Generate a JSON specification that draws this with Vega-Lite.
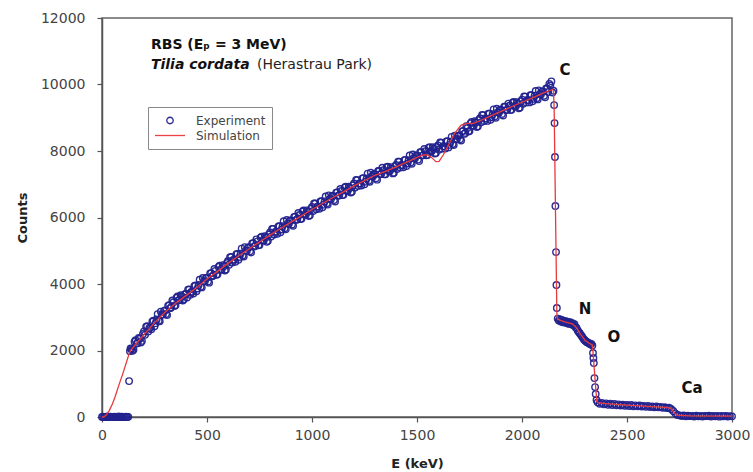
{
  "$schema": "https://vega.github.io/schema/vega-lite/v6.json",
  "width": 630,
  "height": 399,
  "autosize": {"type": "none"},
  "padding": {"left": 102, "top": 18, "right": 21, "bottom": 55},
  "background": "white",
  "config": {
    "font": "DejaVu Sans",
    "view": {"stroke": "#666", "strokeWidth": 1.5},
    "axis": {
      "grid": false, "domainColor": "#555", "domainWidth": 1.5, "tickColor": "#555", "tickWidth": 1.2, "tickSize": 5,
      "labelFont": "DejaVu Sans", "labelFontSize": 14, "labelColor": "#444", "labelFlush": false,
      "titleFont": "DejaVu Sans", "titleFontWeight": "bold", "titleFontSize": 13, "titleColor": "#222"
    },
    "axisX": {"labelPadding": 6, "titlePadding": 15},
    "axisY": {"labelPadding": 12, "titlePadding": 11},
    "legend": {
      "orient": "none", "legendX": 46, "legendY": 89, "clipHeight": 15, "rowPadding": 0, "padding": 6,
      "strokeColor": "#888", "fillColor": "white", "symbolStrokeWidth": 1.3, "symbolOffset": 0,
      "labelFont": "DejaVu Sans", "labelFontSize": 12, "labelColor": "#444", "labelOffset": 10
    }
  },
  "datasets": {
    "exp": [
      {"E":0,"c":0},{"E":5,"c":10},{"E":10,"c":0},{"E":15,"c":5},{"E":20,"c":0},{"E":25,"c":15},{"E":30,"c":0},{"E":35,"c":5},{"E":40,"c":10},{"E":45,"c":0},{"E":50,"c":5},{"E":55,"c":0},{"E":60,"c":10},{"E":65,"c":0},{"E":70,"c":5},{"E":75,"c":0},{"E":80,"c":15},{"E":85,"c":0},{"E":90,"c":5},{"E":95,"c":10},{"E":100,"c":0},{"E":105,"c":5},{"E":110,"c":0},{"E":115,"c":10},{"E":120,"c":0},{"E":125,"c":5},
      {"E":129,"c":1080},{"E":133,"c":1980},{"E":136,"c":2060},
      {"E":140,"c":2040},{"E":150,"c":2023},{"E":160,"c":2310},{"E":170,"c":2226},{"E":180,"c":2353},{"E":190,"c":2289},{"E":200,"c":2576},{"E":210,"c":2715},{"E":220,"c":2574},{"E":230,"c":2682},{"E":240,"c":2871},{"E":250,"c":2730},{"E":260,"c":2933},{"E":270,"c":2896},{"E":280,"c":3170},{"E":290,"c":3083},{"E":300,"c":3206},{"E":310,"c":3065},{"E":320,"c":3364},{"E":330,"c":3303},{"E":340,"c":3452},{"E":350,"c":3361},{"E":360,"c":3626},{"E":370,"c":3522},{"E":380,"c":3627},{"E":390,"c":3543},
      {"E":400,"c":3708},{"E":410,"c":3831},{"E":420,"c":3673},{"E":430,"c":3766},{"E":440,"c":3938},{"E":450,"c":3781},{"E":460,"c":3971},{"E":470,"c":3921},{"E":480,"c":4182},{"E":490,"c":4082},{"E":500,"c":4192},{"E":510,"c":4040},{"E":520,"c":4328},{"E":530,"c":4257},{"E":540,"c":4395},{"E":550,"c":4293},{"E":560,"c":4549},{"E":570,"c":4435},{"E":580,"c":4532},{"E":590,"c":4438},
      {"E":600,"c":4694},{"E":610,"c":4809},{"E":620,"c":4644},{"E":630,"c":4728},{"E":640,"c":4893},{"E":650,"c":4728},{"E":660,"c":4911},{"E":670,"c":4855},{"E":680,"c":5108},{"E":690,"c":5002},{"E":700,"c":5105},{"E":710,"c":4947},{"E":720,"c":5229},{"E":730,"c":5151},{"E":740,"c":5283},{"E":750,"c":5175},{"E":760,"c":5426},{"E":770,"c":5307},{"E":780,"c":5397},{"E":790,"c":5298},
      {"E":800,"c":5549},{"E":810,"c":5659},{"E":820,"c":5489},{"E":830,"c":5568},{"E":840,"c":5728},{"E":850,"c":5558},{"E":860,"c":5737},{"E":870,"c":5676},{"E":880,"c":5924},{"E":890,"c":5813},{"E":900,"c":5912},{"E":910,"c":5750},{"E":920,"c":6028},{"E":930,"c":5946},{"E":940,"c":6074},{"E":950,"c":5962},{"E":960,"c":6209},{"E":970,"c":6086},{"E":980,"c":6173},{"E":990,"c":6070},
      {"E":1000,"c":6317},{"E":1010,"c":6423},{"E":1020,"c":6250},{"E":1030,"c":6326},{"E":1040,"c":6483},{"E":1050,"c":6309},{"E":1060,"c":6484},{"E":1070,"c":6419},{"E":1080,"c":6666},{"E":1090,"c":6551},{"E":1100,"c":6646},{"E":1110,"c":6481},{"E":1120,"c":6756},{"E":1130,"c":6671},{"E":1140,"c":6796},{"E":1150,"c":6681},{"E":1160,"c":6925},{"E":1170,"c":6799},{"E":1180,"c":6884},{"E":1190,"c":6778},
      {"E":1200,"c":7022},{"E":1210,"c":7126},{"E":1220,"c":6950},{"E":1230,"c":7023},{"E":1240,"c":7177},{"E":1250,"c":7001},{"E":1260,"c":7174},{"E":1270,"c":7107},{"E":1280,"c":7350},{"E":1290,"c":7233},{"E":1300,"c":7306},{"E":1310,"c":7139},{"E":1320,"c":7401},{"E":1330,"c":7314},{"E":1340,"c":7426},{"E":1350,"c":7299},{"E":1360,"c":7531},{"E":1370,"c":7393},{"E":1380,"c":7466},{"E":1390,"c":7348},
      {"E":1400,"c":7580},{"E":1410,"c":7682},{"E":1420,"c":7504},{"E":1430,"c":7575},{"E":1440,"c":7727},{"E":1450,"c":7549},{"E":1460,"c":7720},{"E":1470,"c":7651},{"E":1480,"c":7893},{"E":1490,"c":7774},{"E":1500,"c":7865},{"E":1510,"c":7696},{"E":1520,"c":7966},{"E":1530,"c":7877},{"E":1540,"c":7997},{"E":1550,"c":7878},{"E":1560,"c":8118},{"E":1570,"c":7989},{"E":1580,"c":8069},{"E":1590,"c":7940},
      {"E":1600,"c":8170},{"E":1610,"c":8260},{"E":1620,"c":8070},{"E":1630,"c":8139},{"E":1640,"c":8289},{"E":1650,"c":8109},{"E":1660,"c":8279},{"E":1670,"c":8209},{"E":1680,"c":8458},{"E":1690,"c":8358},{"E":1700,"c":8468},{"E":1710,"c":8317},{"E":1720,"c":8606},{"E":1730,"c":8544},{"E":1740,"c":8693},{"E":1750,"c":8602},{"E":1760,"c":8871},{"E":1770,"c":8760},{"E":1780,"c":8859},{"E":1790,"c":8747},
      {"E":1800,"c":8986},{"E":1810,"c":9085},{"E":1820,"c":8903},{"E":1830,"c":8972},{"E":1840,"c":9120},{"E":1850,"c":8939},{"E":1860,"c":9107},{"E":1870,"c":9035},{"E":1880,"c":9273},{"E":1890,"c":9151},{"E":1900,"c":9239},{"E":1910,"c":9067},{"E":1920,"c":9334},{"E":1930,"c":9242},{"E":1940,"c":9359},{"E":1950,"c":9237},{"E":1960,"c":9475},{"E":1970,"c":9342},{"E":1980,"c":9420},{"E":1990,"c":9308},
      {"E":2000,"c":9546},{"E":2010,"c":9643},{"E":2020,"c":9461},{"E":2030,"c":9528},{"E":2040,"c":9676},{"E":2050,"c":9493},{"E":2060,"c":9660},{"E":2070,"c":9587},{"E":2080,"c":9824},{"E":2090,"c":9701},{"E":2100,"c":9788},{"E":2110,"c":9614},{"E":2120,"c":9881},{"E":2130,"c":10018},{"E":2140,"c":10095},{"E":2145,"c":9760},{"E":2150,"c":9811},
      {"E":145,"c":1992},{"E":155,"c":2262},{"E":165,"c":2208},{"E":175,"c":2375},{"E":185,"c":2241},{"E":195,"c":2498},{"E":205,"c":2471},{"E":215,"c":2730},{"E":225,"c":2668},{"E":235,"c":2637},{"E":245,"c":2896},{"E":255,"c":2822},{"E":265,"c":3095},{"E":275,"c":2878},{"E":285,"c":3082},{"E":295,"c":3185},{"E":305,"c":3096},{"E":315,"c":3345},{"E":325,"c":3274},{"E":335,"c":3503},{"E":345,"c":3342},{"E":355,"c":3589},{"E":365,"c":3514},{"E":375,"c":3660},{"E":385,"c":3505},{"E":395,"c":3690},
      {"E":405,"c":3595},{"E":415,"c":3837},{"E":425,"c":3760},{"E":435,"c":3712},{"E":445,"c":3955},{"E":455,"c":3866},{"E":465,"c":4126},{"E":475,"c":3897},{"E":485,"c":4087},{"E":495,"c":4177},{"E":505,"c":4076},{"E":515,"c":4314},{"E":525,"c":4233},{"E":535,"c":4451},{"E":545,"c":4279},{"E":555,"c":4516},{"E":565,"c":4432},{"E":575,"c":4569},{"E":585,"c":4405},{"E":595,"c":4631},
      {"E":605,"c":4577},{"E":615,"c":4812},{"E":625,"c":4726},{"E":635,"c":4671},{"E":645,"c":4906},{"E":655,"c":4810},{"E":665,"c":5063},{"E":675,"c":4827},{"E":685,"c":5010},{"E":695,"c":5094},{"E":705,"c":4986},{"E":715,"c":5218},{"E":725,"c":5130},{"E":735,"c":5342},{"E":745,"c":5164},{"E":755,"c":5396},{"E":765,"c":5307},{"E":775,"c":5437},{"E":785,"c":5268},{"E":795,"c":5489},
      {"E":805,"c":5429},{"E":815,"c":5659},{"E":825,"c":5569},{"E":835,"c":5508},{"E":845,"c":5738},{"E":855,"c":5638},{"E":865,"c":5887},{"E":875,"c":5645},{"E":885,"c":5824},{"E":895,"c":5903},{"E":905,"c":5791},{"E":915,"c":6019},{"E":925,"c":5927},{"E":935,"c":6135},{"E":945,"c":5953},{"E":955,"c":6181},{"E":965,"c":6088},{"E":975,"c":6215},{"E":985,"c":6042},{"E":995,"c":6259},
      {"E":1005,"c":6195},{"E":1015,"c":6422},{"E":1025,"c":6328},{"E":1035,"c":6265},{"E":1045,"c":6491},{"E":1055,"c":6387},{"E":1065,"c":6632},{"E":1075,"c":6388},{"E":1085,"c":6564},{"E":1095,"c":6639},{"E":1105,"c":6524},{"E":1115,"c":6749},{"E":1125,"c":6654},{"E":1135,"c":6859},{"E":1145,"c":6674},{"E":1155,"c":6898},{"E":1165,"c":6802},{"E":1175,"c":6927},{"E":1185,"c":6751},{"E":1195,"c":6965},
      {"E":1205,"c":6899},{"E":1215,"c":7123},{"E":1225,"c":7027},{"E":1235,"c":6960},{"E":1245,"c":7184},{"E":1255,"c":7078},{"E":1265,"c":7321},{"E":1275,"c":7074},{"E":1285,"c":7247},{"E":1295,"c":7310},{"E":1305,"c":7183},{"E":1315,"c":7400},{"E":1325,"c":7298},{"E":1335,"c":7495},{"E":1345,"c":7298},{"E":1355,"c":7510},{"E":1365,"c":7402},{"E":1375,"c":7515},{"E":1385,"c":7327},{"E":1395,"c":7529},
      {"E":1405,"c":7456},{"E":1415,"c":7678},{"E":1425,"c":7580},{"E":1435,"c":7511},{"E":1445,"c":7733},{"E":1455,"c":7625},{"E":1465,"c":7866},{"E":1475,"c":7617},{"E":1485,"c":7789},{"E":1495,"c":7860},{"E":1505,"c":7741},{"E":1515,"c":7961},{"E":1525,"c":7862},{"E":1535,"c":8062},{"E":1545,"c":7873},{"E":1555,"c":8093},{"E":1565,"c":7994},{"E":1575,"c":8114},{"E":1585,"c":7925},{"E":1595,"c":8120},
      {"E":1605,"c":8040},{"E":1615,"c":8250},{"E":1625,"c":8145},{"E":1635,"c":8074},{"E":1645,"c":8294},{"E":1655,"c":8184},{"E":1665,"c":8424},{"E":1675,"c":8179},{"E":1685,"c":8363},{"E":1695,"c":8453},{"E":1705,"c":8353},{"E":1715,"c":8592},{"E":1725,"c":8515},{"E":1735,"c":8744},{"E":1745,"c":8583},{"E":1755,"c":8832},{"E":1765,"c":8756},{"E":1775,"c":8895},{"E":1785,"c":8723},{"E":1795,"c":8932},
      {"E":1805,"c":8861},{"E":1815,"c":9079},{"E":1825,"c":8978},{"E":1835,"c":8906},{"E":1845,"c":9125},{"E":1855,"c":9013},{"E":1865,"c":9251},{"E":1875,"c":8999},{"E":1885,"c":9167},{"E":1895,"c":9235},{"E":1905,"c":9113},{"E":1915,"c":9331},{"E":1925,"c":9228},{"E":1935,"c":9426},{"E":1945,"c":9233},{"E":1955,"c":9451},{"E":1965,"c":9349},{"E":1975,"c":9466},{"E":1985,"c":9284},{"E":1995,"c":9492},
      {"E":2005,"c":9420},{"E":2015,"c":9637},{"E":2025,"c":9535},{"E":2035,"c":9462},{"E":2045,"c":9680},{"E":2055,"c":9567},{"E":2065,"c":9804},{"E":2075,"c":9551},{"E":2085,"c":9718},{"E":2095,"c":9785},{"E":2105,"c":9661},{"E":2115,"c":9878},{"E":2125,"c":9775},{"E":2135,"c":9972},
      {"E":2153,"c":9380},{"E":2155,"c":8840},{"E":2157,"c":7820},{"E":2159,"c":6345},{"E":2162,"c":4960},{"E":2164,"c":3970},{"E":2166,"c":3280},
      {"E":2170,"c":2960},{"E":2175,"c":2900},{"E":2180,"c":2940},{"E":2185,"c":2870},{"E":2190,"c":2920},{"E":2195,"c":2850},{"E":2200,"c":2890},{"E":2205,"c":2840},{"E":2210,"c":2880},{"E":2215,"c":2820},{"E":2220,"c":2860},{"E":2225,"c":2800},{"E":2230,"c":2850},{"E":2235,"c":2790},{"E":2240,"c":2820},{"E":2245,"c":2760},{"E":2250,"c":2790},{"E":2255,"c":2700},{"E":2260,"c":2680},{"E":2265,"c":2600},{"E":2270,"c":2560},{"E":2275,"c":2520},{"E":2280,"c":2470},{"E":2285,"c":2430},{"E":2290,"c":2380},{"E":2295,"c":2330},{"E":2300,"c":2300},{"E":2305,"c":2270},{"E":2310,"c":2250},{"E":2315,"c":2230},{"E":2320,"c":2220},{"E":2325,"c":2190},{"E":2330,"c":2200},{"E":2335,"c":2150},
      {"E":2338,"c":1925},{"E":2340,"c":1775},{"E":2342,"c":1625},{"E":2345,"c":1170},{"E":2348,"c":900},{"E":2351,"c":690},{"E":2355,"c":510},
      {"E":2360,"c":440},{"E":2370,"c":400},{"E":2380,"c":420},{"E":2390,"c":380},{"E":2400,"c":410},{"E":2410,"c":370},{"E":2420,"c":400},{"E":2430,"c":360},{"E":2440,"c":390},{"E":2450,"c":350},{"E":2460,"c":380},{"E":2470,"c":345},{"E":2480,"c":370},{"E":2490,"c":340},{"E":2500,"c":365},{"E":2510,"c":330},{"E":2520,"c":360},{"E":2530,"c":325},{"E":2540,"c":350},{"E":2550,"c":320},{"E":2560,"c":345},{"E":2570,"c":315},{"E":2580,"c":335},{"E":2590,"c":305},{"E":2600,"c":330},{"E":2610,"c":300},{"E":2620,"c":320},{"E":2630,"c":295},{"E":2640,"c":315},{"E":2650,"c":290},{"E":2660,"c":305},{"E":2670,"c":280},{"E":2680,"c":295},{"E":2690,"c":270},{"E":2700,"c":280},{"E":2710,"c":240},{"E":2720,"c":180},{"E":2730,"c":110},
      {"E":2740,"c":60},{"E":2750,"c":50},{"E":2760,"c":30},{"E":2770,"c":45},{"E":2780,"c":20},{"E":2790,"c":40},{"E":2800,"c":25},{"E":2810,"c":35},{"E":2820,"c":15},{"E":2830,"c":40},{"E":2840,"c":20},{"E":2850,"c":30},{"E":2860,"c":15},{"E":2870,"c":35},{"E":2880,"c":25},{"E":2890,"c":40},{"E":2900,"c":15},{"E":2910,"c":30},{"E":2920,"c":20},{"E":2930,"c":35},{"E":2940,"c":10},{"E":2950,"c":30},{"E":2960,"c":20},{"E":2970,"c":35},{"E":2980,"c":15},{"E":2990,"c":25},{"E":3000,"c":20}
    ],
    "sim": [
      {"E":0,"c":0},{"E":8,"c":0},{"E":20,"c":60},{"E":35,"c":200},{"E":50,"c":400},{"E":62,"c":600},{"E":80,"c":950},{"E":100,"c":1320},{"E":115,"c":1620},{"E":125,"c":1820},{"E":133,"c":1960},{"E":140,"c":2030},
      {"E":200,"c":2480},{"E":250,"c":2830},{"E":300,"c":3150},{"E":350,"c":3420},{"E":400,"c":3650},{"E":450,"c":3890},{"E":500,"c":4150},{"E":550,"c":4380},{"E":600,"c":4620},{"E":650,"c":4840},{"E":700,"c":5055},{"E":750,"c":5265},{"E":800,"c":5470},{"E":850,"c":5670},{"E":900,"c":5860},{"E":950,"c":6050},{"E":1000,"c":6240},{"E":1050,"c":6420},{"E":1100,"c":6600},{"E":1150,"c":6770},{"E":1200,"c":6950},{"E":1250,"c":7110},{"E":1300,"c":7270},{"E":1350,"c":7390},{"E":1400,"c":7520},{"E":1450,"c":7660},{"E":1500,"c":7810},{"E":1530,"c":7880},{"E":1550,"c":7880},{"E":1570,"c":7800},{"E":1590,"c":7680},{"E":1605,"c":7690},{"E":1625,"c":7880},{"E":1650,"c":8180},{"E":1680,"c":8540},{"E":1710,"c":8780},{"E":1740,"c":8830},{"E":1770,"c":8830},{"E":1800,"c":8910},{"E":1850,"c":9050},{"E":1900,"c":9190},{"E":1950,"c":9330},{"E":2000,"c":9466},{"E":2050,"c":9600},{"E":2100,"c":9738},{"E":2145,"c":9850},{"E":2150,"c":9820},{"E":2153,"c":9300},{"E":2166,"c":3100},{"E":2170,"c":2940},
      {"E":2200,"c":2870},{"E":2240,"c":2800},{"E":2260,"c":2680},{"E":2280,"c":2480},{"E":2300,"c":2310},{"E":2320,"c":2220},{"E":2336,"c":2160},{"E":2338,"c":1950},{"E":2356,"c":470},{"E":2362,"c":430},{"E":2400,"c":400},{"E":2500,"c":360},{"E":2600,"c":320},{"E":2700,"c":280},{"E":2712,"c":240},{"E":2725,"c":130},{"E":2738,"c":55},{"E":2800,"c":35},{"E":3000,"c":25}
    ]
  },
  "layer": [
    {
      "data": {"name": "exp"},
      "mark": {"type": "point", "filled": false, "strokeWidth": 1.4, "opacity": 0.95},
      "encoding": {
        "x": {"field": "E", "type": "quantitative", "title": "E (keV)", "scale": {"domain": [0, 3000], "nice": false},
              "axis": {"values": [0, 500, 1000, 1500, 2000, 2500, 3000], "format": "d"}},
        "y": {"field": "c", "type": "quantitative", "title": "Counts", "scale": {"domain": [0, 12000], "nice": false},
              "axis": {"values": [0, 2000, 4000, 6000, 8000, 10000, 12000], "format": "d"}},
        "color": {
          "datum": "Experiment", "type": "nominal",
          "scale": {"domain": ["Experiment", "Simulation"], "range": ["#22228f", "#e8393c"]},
          "legend": {"title": null}
        },
        "shape": {
          "datum": "Experiment", "type": "nominal",
          "scale": {"domain": ["Experiment", "Simulation"], "range": ["circle", "stroke"]},
          "legend": {"title": null}
        },
        "size": {
          "datum": "Experiment", "type": "nominal",
          "scale": {"domain": ["Experiment", "Simulation"], "range": [42, 900]},
          "legend": {"title": null}
        }
      }
    },
    {
      "data": {"name": "sim"},
      "mark": {"type": "line", "strokeWidth": 1.3},
      "encoding": {
        "x": {"field": "E", "type": "quantitative"},
        "y": {"field": "c", "type": "quantitative"},
        "color": {"datum": "Simulation", "type": "nominal"}
      }
    },
    {
      "data": {"values": [{"E": 233, "c": 11188, "t": "RBS (Eₚ = 3 MeV)"}]},
      "mark": {"type": "text", "align": "left", "baseline": "middle", "font": "DejaVu Sans", "fontWeight": "bold", "fontSize": 14, "color": "#111"},
      "encoding": {"x": {"field": "E", "type": "quantitative"}, "y": {"field": "c", "type": "quantitative"}, "text": {"field": "t"}}
    },
    {
      "data": {"values": [{"E": 233, "c": 10586, "t": "Tilia cordata"}]},
      "mark": {"type": "text", "align": "left", "baseline": "middle", "font": "DejaVu Sans", "fontWeight": "bold", "fontStyle": "italic", "fontSize": 14, "color": "#111"},
      "encoding": {"x": {"field": "E", "type": "quantitative"}, "y": {"field": "c", "type": "quantitative"}, "text": {"field": "t"}}
    },
    {
      "data": {"values": [{"E": 738, "c": 10586, "t": "(Herastrau Park)"}]},
      "mark": {"type": "text", "align": "left", "baseline": "middle", "font": "DejaVu Sans", "fontSize": 14, "color": "#222"},
      "encoding": {"x": {"field": "E", "type": "quantitative"}, "y": {"field": "c", "type": "quantitative"}, "text": {"field": "t"}}
    },
    {
      "data": {"values": [{"E": 2205, "c": 10436, "t": "C"}, {"E": 2300, "c": 3248, "t": "N"}, {"E": 2438, "c": 2406, "t": "O"}, {"E": 2810, "c": 872, "t": "Ca"}]},
      "mark": {"type": "text", "align": "center", "baseline": "middle", "font": "DejaVu Sans", "fontWeight": "bold", "fontSize": 15, "color": "#111"},
      "encoding": {"x": {"field": "E", "type": "quantitative"}, "y": {"field": "c", "type": "quantitative"}, "text": {"field": "t"}}
    }
  ]
}
